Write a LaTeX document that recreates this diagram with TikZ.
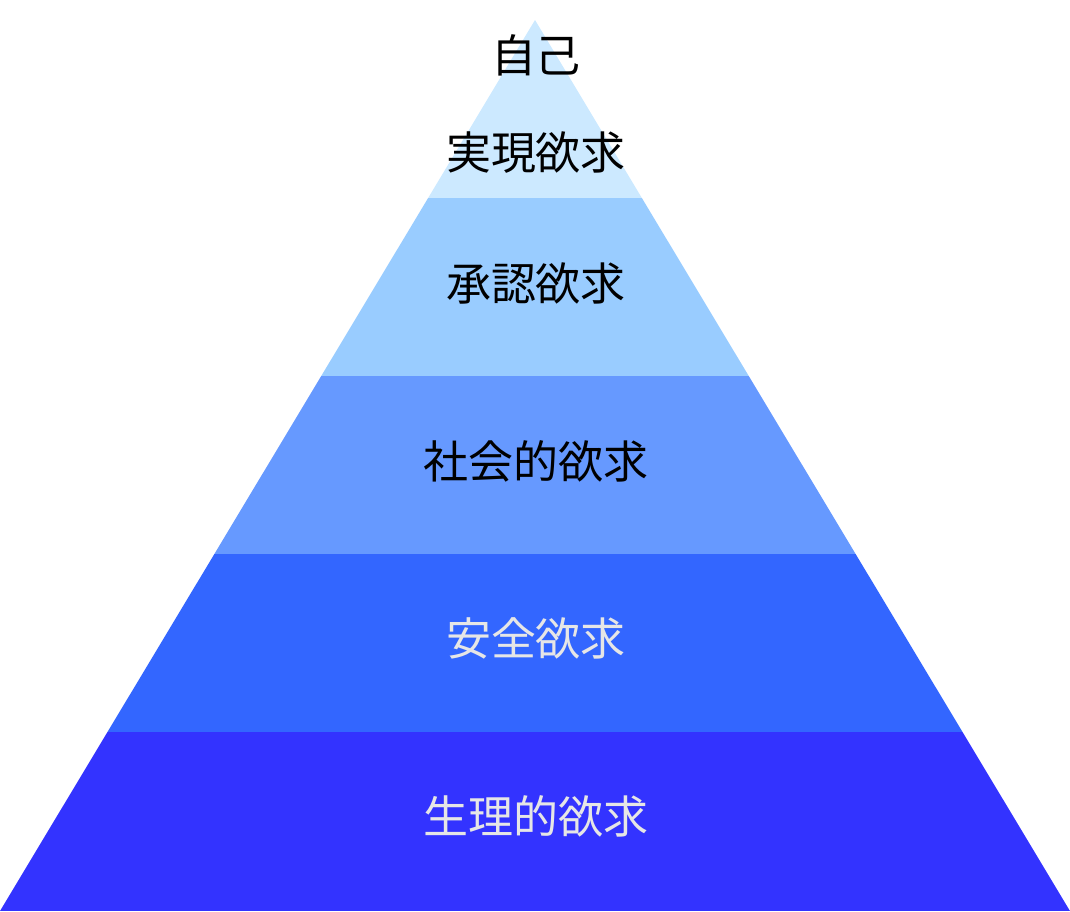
\documentclass[tikz,border=0pt]{standalone}
\usepackage{fontspec}
\newfontfamily\jpfont{Noto Sans CJK JP}
\definecolor{selfblue}{HTML}{CCE9FF}
\definecolor{esteemblue}{HTML}{99CCFF}
\definecolor{socialblue}{HTML}{6699FF}
\definecolor{safetyblue}{HTML}{3366FF}
\definecolor{bodyblue}{HTML}{3333FF}
\definecolor{paletext}{HTML}{E6E6E6}
\tikzset{
  lbl/.style={font=\jpfont\fontsize{12.8}{27.5}\selectfont, align=center, inner sep=0pt},
  lbllight/.style={lbl, text=paletext}
}
\begin{document}
\begin{tikzpicture}
\useasboundingbox (0,0) rectangle (10.70,9.11);
\coordinate (apex) at (5.35,8.91);
\coordinate (baseL) at (0,0);
\coordinate (baseR) at (10.70,0);
% pyramid layers
\begin{scope}
\clip (baseL) -- (apex) -- (baseR) -- cycle;
\fill[bodyblue] (0,0) rectangle (10.70,1.79);
\fill[safetyblue] (0,1.79) rectangle (10.70,3.57);
\fill[socialblue] (0,3.57) rectangle (10.70,5.35);
\fill[esteemblue] (0,5.35) rectangle (10.70,7.13);
\fill[selfblue] (0,7.13) rectangle (10.70,9.11);
\end{scope}
% labels
\node[lbl] (self) at (5.36,8.07) {自己\\実現欲求};
\node[lbl] (esteem) at (5.36,6.28) {承認欲求};
\node[lbl] (social) at (5.36,4.50) {社会的欲求};
\node[lbllight] (safety) at (5.36,2.73) {安全欲求};
\node[lbllight] (body) at (5.36,0.95) {生理的欲求};
\end{tikzpicture}
\end{document}
